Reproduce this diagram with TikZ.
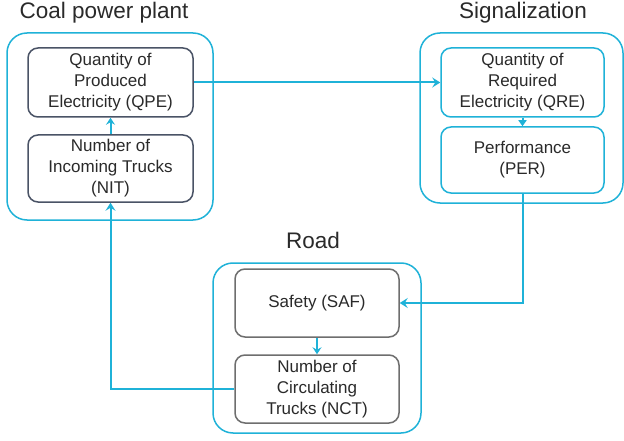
\documentclass[tikz,border=0pt]{standalone}
\usepackage{fontspec}
\setmainfont{Liberation Sans}
\usetikzlibrary{arrows.meta,positioning}
\definecolor{cy}{HTML}{1FB2D8}
\definecolor{slate}{HTML}{4A5366}
\definecolor{gr}{HTML}{6E6E6E}
\definecolor{txt}{HTML}{2A2A2A}
\tikzset{
  group/.style={draw=cy, line width=1.5pt, rounded corners=20pt, rectangle, inner sep=0pt},
  inbox/.style={rectangle, rounded corners=10pt, line width=1.5pt, align=center, text=txt,
     font=\fontsize{17}{21}\selectfont, inner sep=0pt},
  title/.style={text=txt, font=\fontsize{22.5}{26}\selectfont, inner sep=0pt},
  conn/.style={draw=cy, line width=2pt, -{Stealth[length=8pt,width=10pt,inset=3pt]}}
}
\begin{document}
\begin{tikzpicture}[x=1pt,y=-1pt]
\useasboundingbox[fill=white] (0,0) rectangle (624,441);
% groups
\node[group, minimum width=206pt, minimum height=187pt] (gcoal) at (110,126.5) {};
\node[group, minimum width=203pt, minimum height=170pt] (gsig) at (521.5,118) {};
\node[group, minimum width=208pt, minimum height=170pt] (groad) at (317,348) {};
% titles
\node[title] (tcoal) at (104,12.5) {Coal power plant};
\node[title] (tsig) at (523,12.5) {Signalization};
\node[title] (troad) at (313,240.5) {Road};
% inner boxes
\node[inbox, draw=slate, minimum width=165pt, minimum height=69pt] (qpe) at (110.5,82.5) {Quantity of\\Produced\\Electricity (QPE)};
\node[inbox, draw=slate, minimum width=165pt, minimum height=67pt] (nit) at (110.5,168.5) {Number of\\Incoming Trucks\\(NIT)};
\node[inbox, draw=cy, minimum width=163pt, minimum height=69pt] (qre) at (522.5,82.5) {Quantity of\\Required\\Electricity (QRE)};
\node[inbox, draw=cy, minimum width=163pt, minimum height=66pt] (per) at (522.5,160) {Performance\\(PER)};
\node[inbox, draw=gr, minimum width=164pt, minimum height=68pt] (saf) at (317,303) {Safety (SAF)};
\node[inbox, draw=gr, minimum width=164pt, minimum height=68pt] (nct) at (317,389) {Number of\\Circulating\\Trucks (NCT)};
% connectors
\draw[conn] (qpe.east) -- (qre.west);
\draw[conn, -{Stealth[length=6pt,width=8pt,inset=0pt]}] (qre.south) -- (per.north);
\draw[conn] (per.south) -- (per.south |- saf.east) -- (saf.east);
\draw[conn, -{Stealth[length=7pt,width=9pt,inset=2.5pt]}] (saf.south) -- (nct.north);
\draw[conn] (nct.west) -- (nit.south |- nct.west) -- (nit.south);
\draw[conn, -{Stealth[length=7pt,width=9pt,inset=2.5pt]}] (nit.north) -- (qpe.south);
\end{tikzpicture}
\end{document}
